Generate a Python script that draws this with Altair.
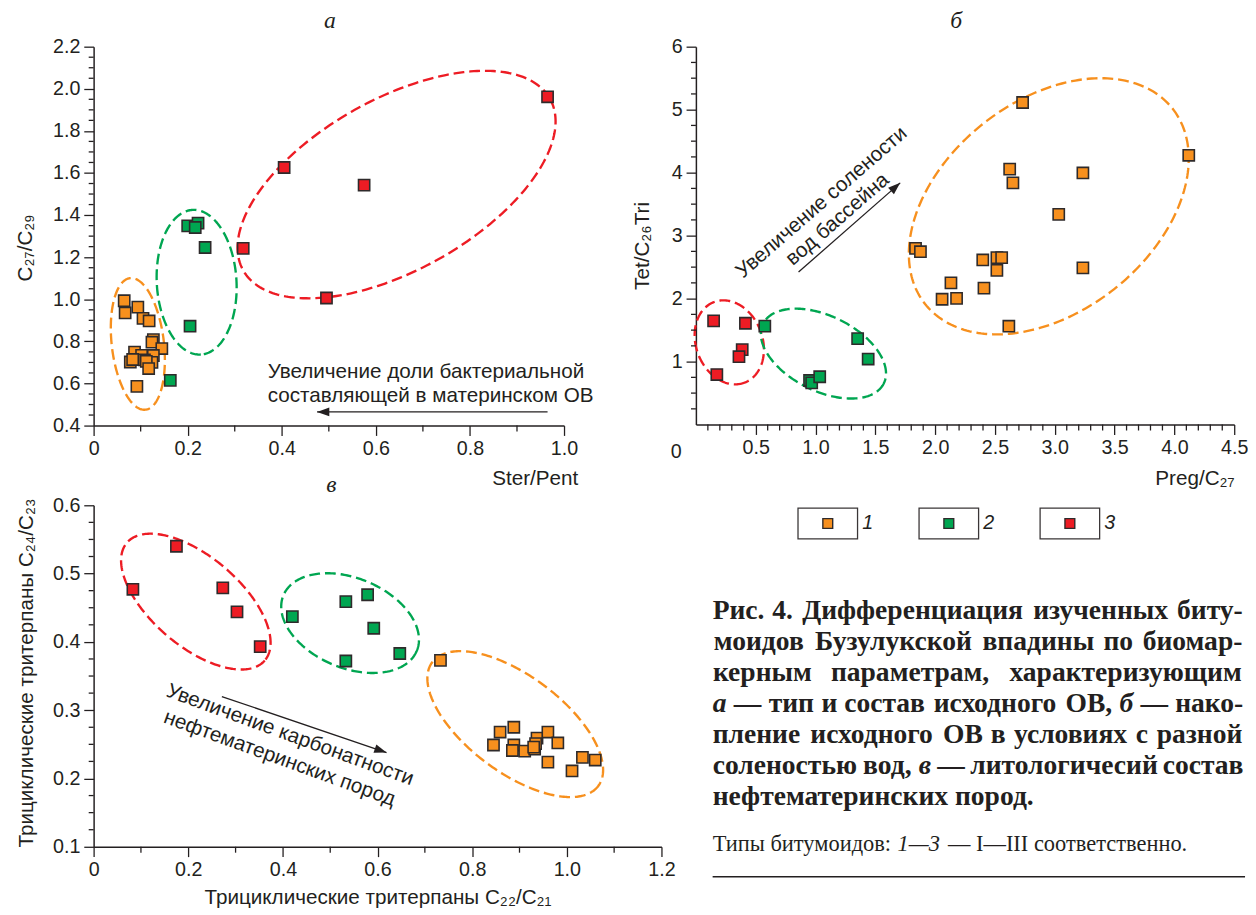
import math
import altair as alt
import pandas as pd

SANS = "Liberation Sans, Arial, sans-serif"
SERIF = "Liberation Serif, Times New Roman, serif"
INK = "#231F20"
ORANGE = "#F7901E"
GREEN = "#00A651"
RED = "#ED1C24"
MSTROKE = "#2E2A2B"

# ---------------- Panel а : Ster/Pent vs C27/C29 ----------------
a_or_x = [0.065, 0.067, 0.094, 0.105, 0.118, 0.127, 0.124, 0.145, 0.087, 0.102, 0.127, 0.078, 0.083, 0.108, 0.124, 0.112, 0.117, 0.092]
a_or_y = [0.993, 0.935, 0.963, 0.909, 0.897, 0.808, 0.796, 0.766, 0.749, 0.734, 0.733, 0.702, 0.714, 0.712, 0.700, 0.705, 0.671, 0.586]
a_gr_x = [0.200, 0.222, 0.216, 0.237, 0.205, 0.163]
a_gr_y = [1.349, 1.362, 1.341, 1.246, 0.872, 0.615]
a_rd_x = [0.965, 0.405, 0.575, 0.318, 0.495]
a_rd_y = [1.962, 1.626, 1.542, 1.242, 1.006]

# ---------------- Panel б : Preg/C27 vs Tet/C26Tri ----------------
b_or_x = [2.731, 4.120, 2.623, 2.650, 3.235, 3.033, 1.836, 1.877, 2.398, 2.516, 2.556, 2.516, 3.235, 2.132, 2.408, 2.058, 2.179, 2.616]
b_or_y = [5.114, 4.276, 4.057, 3.838, 3.995, 3.338, 2.797, 2.745, 2.614, 2.651, 2.651, 2.448, 2.489, 2.250, 2.167, 1.990, 2.005, 1.562]
b_gr_x = [0.576, 1.352, 1.440, 0.950, 0.968, 1.035]
b_gr_y = [1.563, 1.365, 1.041, 0.700, 0.662, 0.760]
b_rd_x = [0.148, 0.414, 0.387, 0.360, 0.175]
b_rd_y = [1.646, 1.609, 1.190, 1.078, 0.795]

# ---------------- Panel в : C22/C21 vs C24/C23 ----------------
c_or_x = [0.733, 0.859, 0.888, 0.845, 0.888, 0.885, 0.911, 0.932, 0.937, 0.934, 0.930, 0.960, 0.981, 0.960, 1.011, 1.033, 1.060]
c_or_y = [0.373, 0.268, 0.275, 0.249, 0.249, 0.241, 0.240, 0.243, 0.259, 0.251, 0.246, 0.268, 0.252, 0.224, 0.211, 0.231, 0.227]
c_gr_x = [0.420, 0.533, 0.579, 0.592, 0.647, 0.533]
c_gr_y = [0.437, 0.459, 0.469, 0.420, 0.383, 0.372]
c_rd_x = [0.175, 0.083, 0.273, 0.303, 0.352]
c_rd_y = [0.540, 0.477, 0.479, 0.444, 0.393]

# ellipse outlines: (id, colour, centre x, centre y, semi-axis A px, semi-axis B px, tilt deg)
a_ellipses = [("o", ORANGE, 0.094, 0.788, 67.3, 26.5, 83.3),
              ("g", GREEN, 0.219, 1.081, 73.6, 40.5, 86.7),
              ("r", RED, 0.644, 1.545, 178.6, 87.0, -29.2)]
b_ellipses = [("r", RED, 0.279, 1.306, 43.8, 33.8, 69.4),
              ("g", GREEN, 1.066, 1.127, 68.4, 38.1, 26.3),
              ("o", ORANGE, 2.950, 3.466, 160.2, 107.2, -38.3)]
c_ellipses = [("r", RED, 0.216, 0.459, 92.1, 45.3, 40.5),
              ("g", GREEN, 0.542, 0.4275, 73.4, 45.6, 22.6),
              ("o", ORANGE, 0.891, 0.2796, 105.2, 49.0, 36.7)]

# arrows: start x, start y, tip x, tip y (data units)
a_arrow = [0.965, 0.465, 0.475, 0.465]
b_arrow = [0.858, 2.422, 1.708, 3.838]
c_arrow = [0.271, 0.320, 0.619, 0.238]

a_note = ["Увеличение доли бактериальной", "составляющей в материнском ОВ"]
a_note_x = [0.370, 0.370]
a_note_y = [0.653, 0.541]
b_note = ["Увеличение солености", "вод бассейна"]
b_note_x = [1.051, 1.185]
b_note_y = [3.525, 3.255]
c_note = ["Увеличение карбонатности", "нефтематеринских пород"]
c_note_x = [0.415, 0.393]
c_note_y = [0.2633, 0.229]

# axis ticks: labelled (major) and unlabelled (minor)
a_x_major = [0, 0.2, 0.4, 0.6, 0.8, 1.0]
a_x_minor = [0.1, 0.3, 0.5, 0.7, 0.9]
a_y_major = [0.4, 0.6, 0.8, 1.0, 1.2, 1.4, 1.6, 1.8, 2.0, 2.2]
a_y_minor = [round(0.4 + 0.05 * i, 3) for i in range(37) if i % 4]
b_x_major = [0.5, 1.0, 1.5, 2.0, 2.5, 3.0, 3.5, 4.0, 4.5]
b_x_minor = [round(0.1 * i, 2) for i in range(1, 45) if i % 5]
b_y_major = [1, 2, 3, 4, 5, 6]
b_y_minor = [round(0.25 * i, 2) for i in range(1, 24) if i % 4]
c_x_major = [0, 0.2, 0.4, 0.6, 0.8, 1.0, 1.2]
c_x_minor = [0.1, 0.3, 0.5, 0.7, 0.9, 1.1]
c_y_major = [0.1, 0.2, 0.3, 0.4, 0.5, 0.6]
c_y_minor = [round(0.1 + 0.025 * i, 4) for i in range(20) if i % 4]


def ellipse_df(params, kx, ky, n=260):
    rows = []
    for gid, col, cx, cy, A, B, th in params:
        t = math.radians(th)
        for i in range(n + 1):
            p = 2 * math.pi * i / n
            dx = A * math.cos(p) * math.cos(t) - B * math.sin(p) * math.sin(t)
            dy = A * math.cos(p) * math.sin(t) + B * math.sin(p) * math.cos(t)
            rows.append({"x": cx + dx / kx, "y": cy - dy / ky, "eid": gid, "ord": i, "col": col})
    return pd.DataFrame(rows)


def points_df(groups):
    rows = []
    for col, xs, ys in groups:
        for x, y in zip(xs, ys):
            rows.append({"x": x, "y": y, "col": col})
    return pd.DataFrame(rows)


def make_axis(values, fmt, title, pad, **kw):
    return alt.Axis(
        values=values,
        labelExpr=f"abs(datum.value) < 1e-9 ? '0' : format(datum.value, '{fmt}')",
        tickSize=10, title=title, labelOverlap=False, labelFlush=False, grid=False,
        labelPadding=pad, **kw)


def panel(W, H, xdom, ydom, groups, ells, arrow, notes, note_angle, note_align,
          xaxis, yaxis, xminor, yminor, title, tdx, toff, corner_zero=False):
    kx = W / (xdom[1] - xdom[0])
    ky = H / (ydom[1] - ydom[0])
    xs = alt.Scale(domain=xdom, nice=False, zero=False)
    ys = alt.Scale(domain=ydom, nice=False, zero=False)
    X = lambda f: alt.X(f, scale=xs, axis=xaxis)
    Y = lambda f: alt.Y(f, scale=ys, axis=yaxis)

    ell = alt.Chart(ellipse_df(ells, kx, ky)).mark_line(
        strokeDash=[11, 5], strokeWidth=2.4).encode(
        x=X("x:Q"), y=Y("y:Q"),
        stroke=alt.Stroke("col:N", scale=None),
        detail="eid:N", order="ord:Q")

    # minor ticks (outside the plot, drawn through the panel scales)
    mx = pd.DataFrame({"x": xminor, "y": [ydom[0]] * len(xminor),
                       "y2": [ydom[0] - 6 / ky] * len(xminor)})
    my = pd.DataFrame({"y": yminor, "x": [xdom[0]] * len(yminor),
                       "x2": [xdom[0] - 5 / kx] * len(yminor)})
    tx = alt.Chart(mx).mark_rule(color=INK, strokeWidth=1.3).encode(
        x=X("x:Q"), y=Y("y:Q"), y2="y2:Q")
    ty = alt.Chart(my).mark_rule(color=INK, strokeWidth=1.3).encode(
        x=X("x:Q"), x2="x2:Q", y=Y("y:Q"))

    adf = pd.DataFrame([{"x": arrow[0], "y": arrow[1], "x2": arrow[2], "y2": arrow[3]}])
    rule = alt.Chart(adf).mark_rule(color=INK, strokeWidth=1.3).encode(
        x=X("x:Q"), y=Y("y:Q"), x2="x2:Q", y2="y2:Q")
    dxp = (arrow[2] - arrow[0]) * kx
    dyp = -(arrow[3] - arrow[1]) * ky
    ang = math.degrees(math.atan2(dyp, dxp)) % 360
    head = alt.Chart(adf).mark_point(
        shape="M0,0L-1,-0.36L-1,0.36Z", filled=True, size=620, opacity=1,
        color=INK, angle=ang).encode(x=X("x2:Q"), y=Y("y2:Q"))

    ndf = pd.DataFrame({"x": notes[1], "y": notes[2], "t": notes[0]})
    note = alt.Chart(ndf).mark_text(
        align=note_align, baseline="middle", font=SANS, fontSize=21, color=INK,
        angle=note_angle).encode(x=X("x:Q"), y=Y("y:Q"), text="t:N")

    pts = alt.Chart(points_df(groups)).mark_point(
        shape="square", filled=True, size=130, opacity=1, stroke=MSTROKE,
        strokeWidth=1.6).encode(
        x=X("x:Q"), y=Y("y:Q"), fill=alt.Fill("col:N", scale=None))

    layers = [ell, tx, ty, rule, head, note, pts]
    if corner_zero:
        z = alt.Chart(pd.DataFrame({"x": [xdom[0]], "y": [ydom[0]], "t": ["0"]})).mark_text(
            font=SANS, fontSize=20, color=INK, dx=-20, dy=28, baseline="middle").encode(
            x=X("x:Q"), y=Y("y:Q"), text="t:N")
        layers.append(z)

    return alt.layer(*layers).properties(
        width=W, height=H,
        title=alt.TitleParams(title, font=SERIF, fontSize=24, fontStyle="italic",
                              fontWeight="normal", color=INK, anchor="middle",
                              frame="group", offset=toff, dx=tdx))


# ---------------- panel а ----------------
A_W, A_H = 478, 385
pa = panel(
    A_W, A_H, [0, 1.0], [0.4, 2.2],
    [(ORANGE, a_or_x, a_or_y), (GREEN, a_gr_x, a_gr_y), (RED, a_rd_x, a_rd_y)],
    a_ellipses, a_arrow, (a_note, a_note_x, a_note_y), 0, "left",
    make_axis(a_x_major, ".1f", "Ster/Pent", 3,
              titleX=492, titleY=54, titleAlign="right", titleBaseline="middle"),
    make_axis(a_y_major, ".1f", "C₂₇/C₂₉", 4,
              titleX=-69, titleY=204, titleBaseline="middle"),
    a_x_minor, a_y_minor, "а", 1, 4)

# ---------------- panel б ----------------
B_W, B_H = 547, 384
pb = panel(
    B_W, B_H, [0, 4.5], [0, 6],
    [(ORANGE, b_or_x, b_or_y), (GREEN, b_gr_x, b_gr_y), (RED, b_rd_x, b_rd_y)],
    b_ellipses, b_arrow, (b_note, b_note_x, b_note_y), 319, "center",
    make_axis(b_x_major, ".1f", "Preg/C₂₇", 3,
              titleX=547, titleY=55, titleAlign="right", titleBaseline="middle"),
    make_axis(b_y_major, ".0f", "Tet/C₂₆Tri", 4,
              titleX=-54, titleY=202, titleBaseline="middle"),
    b_x_minor, b_y_minor, "б", -9, 4, corner_zero=True)

# ---------------- panel в ----------------
C_W, C_H = 577, 347
pc = panel(
    C_W, C_H, [0, 1.2], [0.1, 0.6],
    [(RED, c_rd_x, c_rd_y), (GREEN, c_gr_x, c_gr_y), (ORANGE, c_or_x, c_or_y)],
    c_ellipses, c_arrow, (c_note, c_note_x, c_note_y), 20, "center",
    make_axis(c_x_major, ".1f", "Трициклические тритерпаны C₂₂/C₂₁", 3,
              titleY=52, titleBaseline="middle", titleFontSize=21),
    make_axis(c_y_major, ".1f", "Трициклические тритерпаны C₂₄/C₂₃", 4,
              titleX=-68, titleY=170, titleBaseline="middle", titleFontSize=21),
    c_x_minor, c_y_minor, "в", -47, -1.5)

# ---------------- legend + caption cell ----------------
D_W, D_H = 547, 347
leg_labels = ["1", "2", "3"]
leg_colors = [ORANGE, GREEN, RED]
leg_x = [134, 257, 380]
leg_y = 18.5

cap_lines = [
    [("Рис.", 0), ("4.", 0), ("Дифференциация", 0), ("изученных", 0), ("биту-", 0)],
    [("моидов", 0), ("Бузулукской", 0), ("впадины", 0), ("по", 0), ("биомар-", 0)],
    [("керным", 0), ("параметрам,", 0), ("характеризующим", 0)],
    [("а", 1), ("—", 0), ("тип", 0), ("и", 0), ("состав", 0), ("исходного", 0), ("ОВ,", 0),
     ("б", 1), ("—", 0), ("нако-", 0)],
    [("пление", 0), ("исходного", 0), ("ОВ", 0), ("в", 0), ("условиях", 0), ("с", 0), ("разной", 0)],
    [("соленостью", 0), ("вод,", 0), ("в", 1), ("—", 0), ("литологичесий", 0), ("состав", 0)],
]
cap_last = "нефтематеринских пород."
foot_parts = [("Типы битумоидов:", 0), ("1—3", 1), ("— I—III соответственно.", 0)]

# approximate advance widths (em) of a bold / regular serif face, used to justify the caption
BOLD_EM = dict(zip("абвгдежзийклмнопрстуфхцчшщъыьэюя",
                   [.5, .5, .52, .44, .55, .44, .82, .44, .58, .58, .55, .56, .7, .58, .5, .58,
                    .56, .44, .5, .5, .72, .5, .58, .56, .84, .84, .6, .78, .5, .46, .78, .55]))
BOLD_EM.update({"Р": .61, "Д": .72, "Б": .67, "О": .78, "В": .67, ".": .25, ",": .25,
                "-": .33, "—": 1.0, ":": .33, " ": .25, "4": .5})
REG_EM = dict(zip("абвгдежзийклмнопрстуфхцчшщъыьэюя",
                  [.44, .5, .47, .4, .5, .44, .7, .4, .53, .53, .5, .5, .63, .53, .5, .5,
                   .5, .44, .44, .5, .65, .5, .53, .5, .76, .76, .55, .72, .47, .44, .72, .5]))
REG_EM.update({"Т": .61, "I": .333, ".": .25, ",": .25, ":": .278, " ": .25, "—": 1.0,
               "1": .5, "3": .5})

CAP_FS = 28
FOOT_FS = 22.8
CAP_L, CAP_R = 17, 556
cap_y0, cap_dy = 107.5, 31.5


def width(s, table, fs):
    return sum(table.get(ch, 0.52) for ch in s) * fs


cap_rows = []
for li, words in enumerate(cap_lines):
    ws = [width(w, BOLD_EM, CAP_FS) for w, _ in words]
    gap = (CAP_R - CAP_L - sum(ws)) / (len(words) - 1)
    pos = CAP_L
    for (w, it), ww in zip(words, ws):
        cap_rows.append({"x": pos + ww / 2, "y": cap_y0 + li * cap_dy, "t": w, "it": it})
        pos += ww + gap
cap_df = pd.DataFrame(cap_rows)

foot_rows = []
pos = CAP_L
for s, it in foot_parts:
    foot_rows.append({"x": pos, "y": 344.5, "t": s, "it": it})
    pos += width(s, REG_EM, FOOT_FS) + 0.25 * FOOT_FS
foot_df = pd.DataFrame(foot_rows)

dx_s = alt.Scale(domain=[0, D_W], nice=False, zero=False)
dy_s = alt.Scale(domain=[D_H, 0], nice=False, zero=False)
X = lambda f: alt.X(f, scale=dx_s, axis=None)
Y = lambda f: alt.Y(f, scale=dy_s, axis=None)

leg_df = pd.DataFrame({"x": leg_x, "y": [leg_y] * 3, "t": leg_labels, "col": leg_colors})
leg_box = alt.Chart(leg_df).mark_point(
    shape="M-1,-0.52L1,-0.52L1,0.52L-1,0.52Z", size=3660, filled=False, opacity=1,
    stroke="#3A3637", strokeWidth=1.3).encode(x=X("x:Q"), y=Y("y:Q"))
leg_sq = alt.Chart(leg_df).mark_point(
    shape="square", filled=True, size=100, opacity=1, stroke=MSTROKE, strokeWidth=1.4).encode(
    x=X("x:Q"), y=Y("y:Q"), fill=alt.Fill("col:N", scale=None))
leg_txt = alt.Chart(leg_df).mark_text(
    align="left", baseline="middle", dx=35, font=SANS, fontSize=20, fontStyle="italic",
    color=INK).encode(x=X("x:Q"), y=Y("y:Q"), text="t:N")

cap_n = alt.Chart(cap_df).transform_filter("datum.it == 0").mark_text(
    align="center", baseline="middle", font=SERIF, fontSize=CAP_FS, fontWeight="bold",
    color=INK).encode(x=X("x:Q"), y=Y("y:Q"), text="t:N")
cap_i = alt.Chart(cap_df).transform_filter("datum.it == 1").mark_text(
    align="center", baseline="middle", font=SERIF, fontSize=CAP_FS, fontWeight="bold",
    fontStyle="italic", color=INK).encode(x=X("x:Q"), y=Y("y:Q"), text="t:N")
cap_last_c = alt.Chart(pd.DataFrame({"x": [CAP_L], "y": [cap_y0 + 6 * cap_dy], "t": [cap_last]})).mark_text(
    align="left", baseline="middle", font=SERIF, fontSize=CAP_FS, fontWeight="bold",
    color=INK).encode(x=X("x:Q"), y=Y("y:Q"), text="t:N")
foot_n = alt.Chart(foot_df).transform_filter("datum.it == 0").mark_text(
    align="left", baseline="middle", font=SERIF, fontSize=FOOT_FS, color=INK).encode(
    x=X("x:Q"), y=Y("y:Q"), text="t:N")
foot_i = alt.Chart(foot_df).transform_filter("datum.it == 1").mark_text(
    align="left", baseline="middle", font=SERIF, fontSize=FOOT_FS, fontStyle="italic",
    color=INK).encode(x=X("x:Q"), y=Y("y:Q"), text="t:N")
rule_df = pd.DataFrame({"x": [CAP_L], "x2": [558], "y": [377.5]})
cap_rule = alt.Chart(rule_df).mark_rule(color=INK, strokeWidth=1.5).encode(
    x=X("x:Q"), x2="x2:Q", y=Y("y:Q"))

pd_cell = alt.layer(leg_box, leg_sq, leg_txt, cap_n, cap_i, cap_last_c, foot_n, foot_i,
                    cap_rule).properties(width=D_W, height=D_H)

chart = alt.concat(
    pa, pb, pc, pd_cell, columns=2, spacing={"row": 81, "column": 35}, bounds="flush"
).resolve_scale(x="independent", y="independent").properties(
    padding={"left": 7, "top": -6, "right": 0, "bottom": 0}
).configure_view(stroke=None).configure_axis(
    domainColor=INK, domainWidth=1.5, tickColor=INK, tickWidth=1.3,
    labelFont=SANS, labelFontSize=20, labelColor=INK,
    titleFont=SANS, titleFontSize=21, titleFontWeight="normal", titleColor=INK
)

chart.save("out.html", embed_options={"renderer": "svg", "actions": False})
